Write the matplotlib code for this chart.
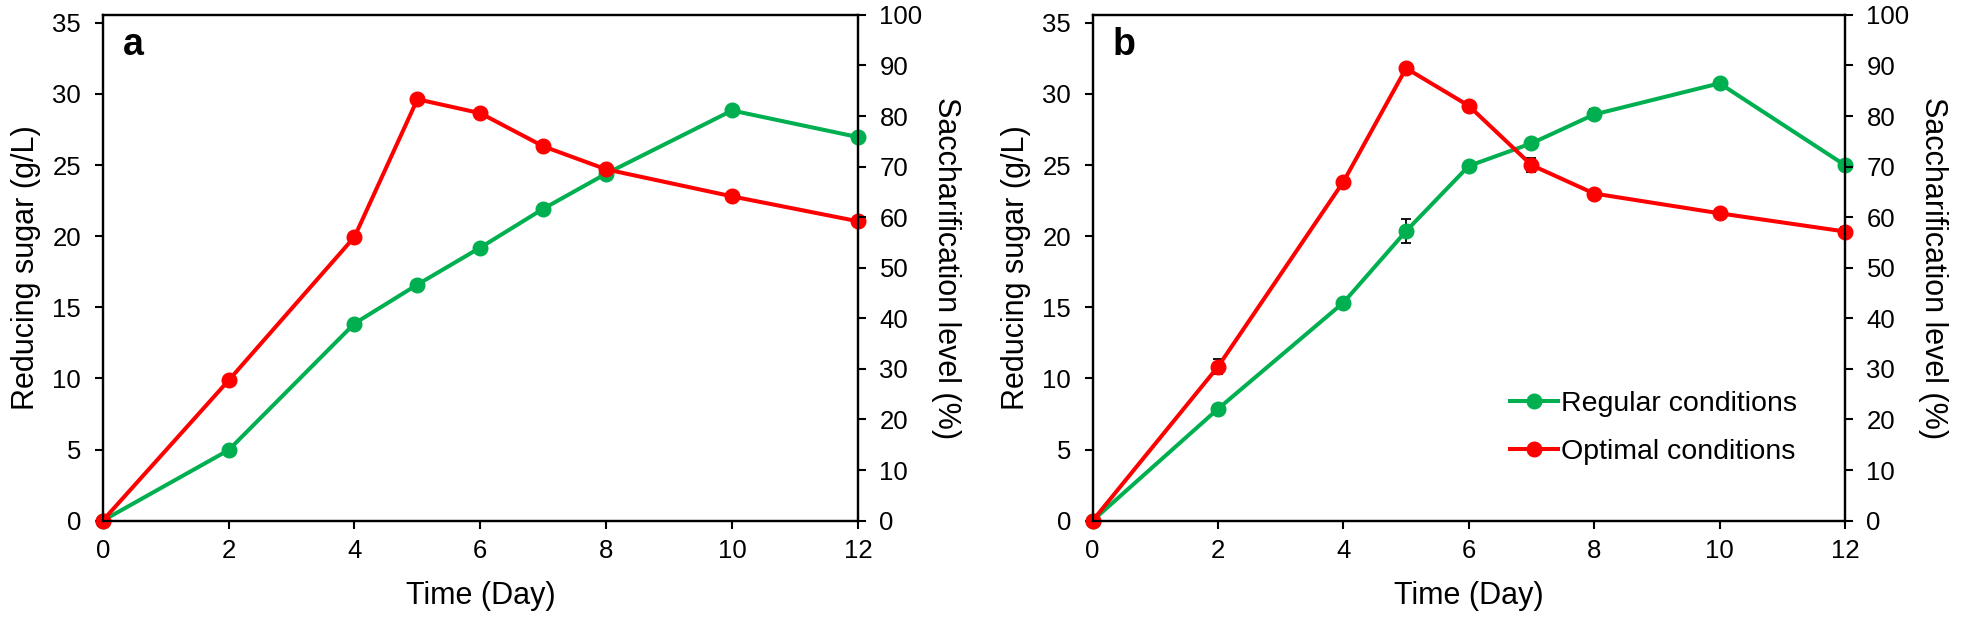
import numpy as np
import matplotlib
matplotlib.use("Agg")
import matplotlib.pyplot as plt

plt.rcParams['font.family'] = ['Liberation Sans', 'DejaVu Sans']

days = [0, 2, 4, 5, 6, 7, 8, 10, 12]

# panel a (reducing sugar, g/L)
reg_a = [0, 4.96, 13.86, 16.6, 19.2, 21.93, 24.4, 28.84, 26.97]
opt_a = [0, 9.86, 19.95, 29.63, 28.65, 26.32, 24.7, 22.8, 21.05]
reg_a_err = [0, 0.1, 0.15, 0.15, 0.15, 0.1, 0.15, 0.15, 0.1]
opt_a_err = [0, 0.15, 0.15, 0.15, 0.15, 0.15, 0.1, 0.1, 0.1]

# panel b
reg_b = [0, 7.86, 15.33, 20.36, 24.94, 26.53, 28.56, 30.75, 25.0]
opt_b = [0, 10.83, 23.83, 31.81, 29.17, 25.0, 23.0, 21.61, 20.33]
reg_b_err = [0, 0.15, 0.15, 0.82, 0.15, 0.15, 0.35, 0.15, 0.15]
opt_b_err = [0, 0.5, 0.15, 0.15, 0.15, 0.47, 0.15, 0.15, 0.3]

GREEN = '#00B050'
RED = '#FF0000'

fig = plt.figure(figsize=(19.61, 6.22), dpi=100)
positions = [[0.0524, 0.163, 0.3851, 0.813], [0.5572, 0.163, 0.3836, 0.813]]
panels = [('a', reg_a, opt_a, reg_a_err, opt_a_err),
          ('b', reg_b, opt_b, reg_b_err, opt_b_err)]

for pos, (letter, reg, opt, reg_err, opt_err) in zip(positions, panels):
    ax = fig.add_axes(pos)
    for y, err, col, lab in [(reg, reg_err, GREEN, 'Regular conditions'),
                             (opt, opt_err, RED, 'Optimal conditions')]:
        ax.errorbar(days, y, yerr=err, fmt='none', ecolor='black',
                    elinewidth=1.3, capsize=3.5, capthick=1.3, zorder=2, clip_on=False)
        ax.plot(days, y, color=col, lw=2.9, marker='o', ms=10.5, label=lab,
                zorder=3, clip_on=False)

    ax.set_xlim(0, 12)
    ax.set_ylim(0, 35.56)
    ax.set_xticks(range(0, 13, 2))
    ax.set_yticks(range(0, 36, 5))
    ax.set_xlabel('Time (Day)', fontsize=22, labelpad=13)
    ax.set_ylabel('Reducing sugar (g/L)', fontsize=22, labelpad=8)
    ax.tick_params(direction='out', length=5.5, width=1.5, labelsize=18.5)
    ax.tick_params(axis='x', pad=8)
    ax.tick_params(axis='y', pad=10)
    for s in ax.spines.values():
        s.set_linewidth(1.6)
    ax.text(0.026, 0.921, letter, transform=ax.transAxes, fontsize=27,
            fontweight='bold', va='baseline', ha='left')

    ax2 = ax.twinx()
    ax2.set_ylim(0, 100)
    ax2.set_yticks(range(0, 101, 10))
    ax2.set_ylabel('Saccharification level (%)', fontsize=22, rotation=270,
                   labelpad=28)
    ax2.tick_params(direction='out', length=5.5, width=1.5, labelsize=18.5, pad=10)
    for s in ax2.spines.values():
        s.set_linewidth(1.6)

    if letter == 'b':
        ax.legend(loc='center left', bbox_to_anchor=(0.5547, 0.183), frameon=False,
                  fontsize=20.5, handlelength=1.68, handletextpad=0.1,
                  labelspacing=0.75, borderpad=0, borderaxespad=0)

fig.savefig('out.png', dpi=100)
